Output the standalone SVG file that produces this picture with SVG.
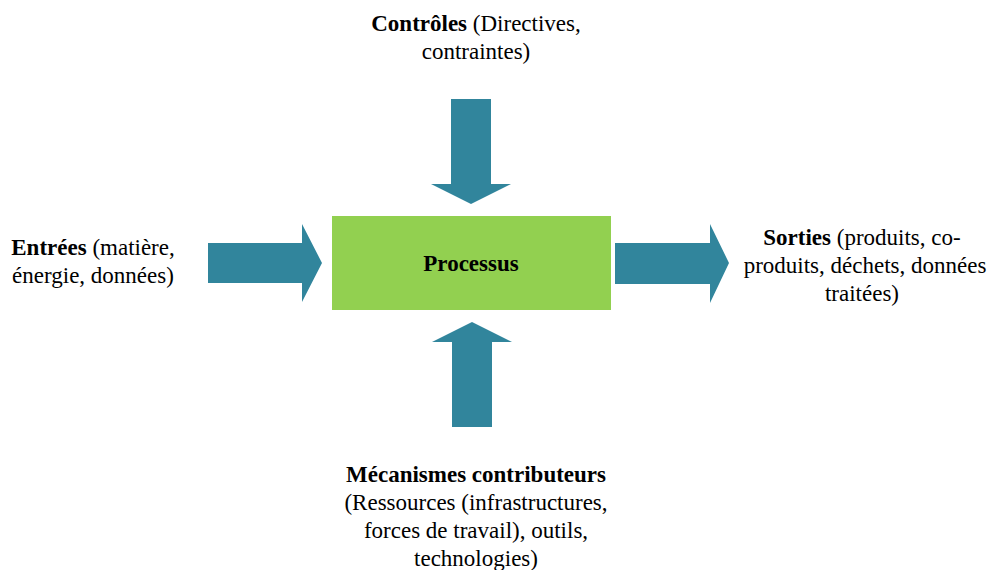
<svg xmlns="http://www.w3.org/2000/svg" width="988" height="570" viewBox="0 0 988 570">
<defs>
<style>
.arrow{fill:#31859c}
</style>
</defs>
<rect width="988" height="570" fill="#fff"/>
<g id="connectors">
<polygon class="arrow" points="451,99 491,99 491,184 511,184 471,204 431,184 451,184"/>
<polygon class="arrow" points="208,243 302,243 302,224 322,263 302,302 302,283 208,283"/>
<polygon class="arrow" points="615,243 710,243 710,224 729,263 710,303 710,284 615,284"/>
<polygon class="arrow" points="452,427 492,427 492,342 512,342 472,322 432,342 452,342"/>
</g>
<g font-family="Liberation Serif" font-size="23" text-anchor="middle" fill="#000">
<g id="processus">
<rect x="332" y="216" width="279" height="94" fill="#92d050"/>
<text font-weight="bold" font-size="23" x="471" y="271">Processus</text>
</g>
<g id="controles">
<text x="476" y="31"><tspan font-weight="bold">Contrôles</tspan> (Directives,</text>
<text x="476" y="59">contraintes)</text>
</g>
<g id="entrees">
<text x="93" y="255"><tspan font-weight="bold">Entrées</tspan> (matière,</text>
<text x="93" y="283">énergie, données)</text>
</g>
<g id="sorties">
<text x="862" y="245"><tspan font-weight="bold">Sorties</tspan> (produits, co-</text>
<text x="865" y="273">produits, déchets, données</text>
<text x="862" y="301">traitées)</text>
</g>
<g id="mecanismes">
<text font-weight="bold" x="476" y="482">Mécanismes contributeurs</text>
<text x="476" y="510">(Ressources (infrastructures,</text>
<text x="476" y="538">forces de travail), outils,</text>
<text x="476" y="566">technologies)</text>
</g>
</g>
</svg>
